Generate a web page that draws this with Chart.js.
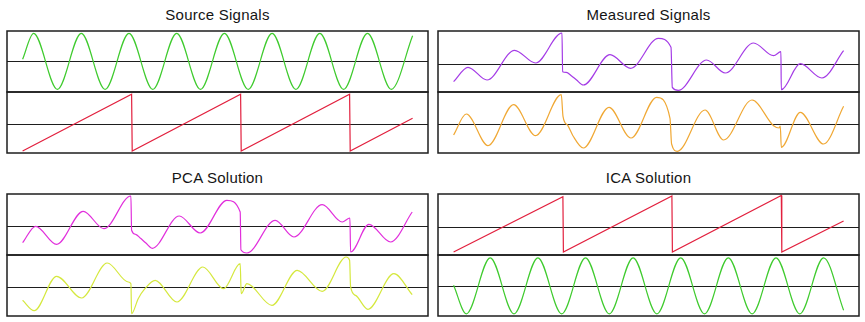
<!DOCTYPE html>
<html><head><meta charset="utf-8">
<script src="https://cdn.jsdelivr.net/npm/chart.js@4.4.1/dist/chart.umd.min.js"></script>
<style>
html,body{margin:0;padding:0;background:#fff;}
body{width:865px;height:322px;position:relative;overflow:hidden;font-family:"Liberation Sans",Arial,Helvetica,sans-serif;}
.title{position:absolute;width:421px;text-align:center;font-size:15px;letter-spacing:0.25px;line-height:16px;color:#151515;}
canvas{position:absolute;}
</style></head><body>
<script>
// ---------- DATA (time in samples, amplitude in arbitrary units) ----------
const panelTitles = ["Source Signals", "Measured Signals", "PCA Solution", "ICA Solution"];

// Source 1: sine (start, peaks/troughs, end)
const srcSineT = [0, 11.0, 34.8, 58.7, 82.5, 106.4, 130.2, 154.1, 177.9, 201.8, 225.6, 249.5, 273.3, 297.2, 321.0, 344.9, 368.7, 390];
const srcSineV = [0.2, 2.8, -2.8, 2.8, -2.8, 2.8, -2.8, 2.8, -2.8, 2.8, -2.8, 2.8, -2.8, 2.8, -2.8, 2.8, -2.8, 2.55];

// Source 2: sawtooth
const srcSawT = [0, 109, 109.6, 218, 218.6, 327, 327.6, 390];
const srcSawV = [-2.67, 3.0, -2.67, 3.0, -2.67, 3.0, -2.67, 0.6];

// Measured mixture 1 (purple)
const mix1T = [0, 14.4, 33.4, 61, 82, 108.4, 109, 112.7, 117.7, 122.7, 129.7, 156.4, 177, 204.7, 217.4, 218.7, 224.7, 253, 271.7, 300, 320, 327.3, 327.7, 346.7, 368.3, 390];
const mix1V = [-1.8, -0.36, -1.63, 1.34, 0.07, 3.07, -0.8, -0.87, -1.2, -1.6, -2.13, 0.9, -0.46, 2.54, 1.64, -2.36, -2.66, 0.37, -0.93, 2.07, 0.8, 1.2, -2.6, 0, -1.43, 1.3];

// Measured mixture 2 (orange)
const mix2T = [0, 12.7, 34.4, 60, 82, 107.7, 109.4, 114.3, 119.3, 129.7, 155.4, 177.4, 203, 216.4, 218, 223.7, 251.4, 270, 298.4, 320, 325.5, 326.7, 327.7, 346.7, 370, 390];
const mix2V = [-1.1, 1.0, -2.17, 1.93, -1.17, 2.93, 0.77, -0.17, -1.17, -2.4, 1.67, -1.4, 2.67, 0.57, -2.0, -2.73, 1.4, -1.6, 2.4, -0.17, -0.4, -0.2, -2.33, 1.17, -2.0, 1.77];

// PCA component 1 (magenta)
const pca1T = [0, 13, 34, 60.6, 81.3, 108.3, 109, 113, 118, 123, 129.6, 156.6, 177.6, 204.3, 217.6, 218.3, 224.3, 252.6, 271.3, 299.6, 319.6, 327.3, 328, 346.3, 368, 389.6];
const pca1V = [-1.64, 0, -1.8, 1.5, -0.24, 3.03, -0.4, -0.8, -1.2, -1.65, -2.2, 1.03, -0.67, 2.6, 1.43, -2.34, -2.67, 0.6, -1.07, 2.16, 0.43, 0.83, -2.57, 0.2, -1.57, 1.43];

// PCA component 2 (yellow)
const pca2T = [0, 11.6, 34, 59, 84.6, 105.6, 108.3, 109, 115.6, 122.3, 132.6, 154.3, 180.3, 201, 217.6, 218.6, 224.3, 249.3, 274.6, 299.6, 323.6, 327, 328, 333, 345.3, 371.3, 389.6];
const pca2V = [-1.36, -2.4, 1.04, -1.13, 2.37, 0.47, 0.3, -2.7, -1.2, -0.2, 0.64, -1.53, 1.97, -0.2, 2.3, -0.7, 0.3, -1.86, 1.64, -0.46, 2.97, 2.64, 0.0, -0.87, -2.26, 1.3, -0.8];

// ICA component 1 (sawtooth)
const icaSawT = [0, 109.3, 109.8, 218.3, 218.8, 327.7, 328.2, 390];
const icaSawV = [-2.53, 3.0, -2.53, 3.07, -2.53, 3.13, -2.53, 0.57];

// ICA component 2 (sine, inverted: start, troughs/peaks, end)
const icaSineT = [0, 12.7, 36.6, 60.4, 84.3, 108.1, 131.9, 155.7, 179.5, 203.3, 227.1, 250.9, 274.7, 298.5, 322.4, 346.2, 370.0, 390];
const icaSineV = [0.1, -2.75, 2.85, -2.75, 2.85, -2.75, 2.85, -2.75, 2.85, -2.75, 2.85, -2.75, 2.85, -2.75, 2.85, -2.75, 2.85, -2.4];

// ---------- LAYOUT / STYLE ----------
const PX = [7, 438, 7, 438];
const PY = [31, 31, 194, 194];
const W = 421, H = 61, PAD = 3;
const X_MIN = -15.6, X_MAX = 405.4;

const subplots = [
  {p:0, r:0, t:srcSineT, v:srcSineV, c:'#3fcb2e', smooth:true,  yMin:-3.07, yMax:3.03},
  {p:0, r:1, t:srcSawT,  v:srcSawV,  c:'#e2203e', smooth:false, yMin:-2.87, yMax:3.23},
  {p:1, r:0, t:mix1T,    v:mix1V,    c:'#a43be6', smooth:true,  yMin:-2.83, yMax:3.27},
  {p:1, r:1, t:mix2T,    v:mix2V,    c:'#f0a834', smooth:true,  yMin:-2.90, yMax:3.20},
  {p:2, r:0, t:pca1T,    v:pca1V,    c:'#e12fdc', smooth:true,  yMin:-2.87, yMax:3.23},
  {p:2, r:1, t:pca2T,    v:pca2V,    c:'#d5e83e', smooth:true,  yMin:-2.93, yMax:3.17},
  {p:3, r:0, t:icaSawT,  v:icaSawV,  c:'#e2203e', smooth:false, yMin:-2.83, yMax:3.27},
  {p:3, r:1, t:icaSineT, v:icaSineV, c:'#3fcb2e', smooth:true,  yMin:-2.97, yMax:3.13}
];

// titles
panelTitles.forEach((txt, i) => {
  const d = document.createElement('div');
  d.className = 'title';
  d.textContent = txt;
  d.style.left = PX[i] + 'px';
  d.style.top = (PY[i] - 24) + 'px';
  document.body.appendChild(d);
});

const framePlugin = {
  id: 'frame',
  beforeDatasetsDraw(chart) {
    const {ctx, chartArea: a, scales: {y}} = chart;
    const zy = Math.round(y.getPixelForValue(0)) + 0.5;
    ctx.save();
    ctx.strokeStyle = '#1e1e1e';
    ctx.lineWidth = 1.2;
    ctx.beginPath();
    ctx.moveTo(a.left, zy);
    ctx.lineTo(a.right, zy);
    ctx.stroke();
    ctx.restore();
  },
  afterDatasetsDraw(chart) {
    const {ctx, chartArea: a} = chart;
    ctx.save();
    ctx.strokeStyle = '#1e1e1e';
    ctx.lineWidth = 1.5;
    ctx.strokeRect(a.left, a.top, a.right - a.left, a.bottom - a.top);
    ctx.restore();
  }
};

subplots.forEach(s => {
  const cv = document.createElement('canvas');
  cv.width = W + 2 * PAD;
  cv.height = H + 2 * PAD;
  cv.style.left = (PX[s.p] - PAD) + 'px';
  cv.style.top = (PY[s.p] + s.r * H - PAD) + 'px';
  document.body.appendChild(cv);
  new Chart(cv, {
    type: 'line',
    data: {
      datasets: [{
        data: s.t.map((t, i) => ({x: t, y: s.v[i]})),
        borderColor: s.c,
        borderWidth: 1.2,
        pointRadius: 0,
        fill: false,
        tension: s.smooth ? 0.4 : 0,
        cubicInterpolationMode: s.smooth ? 'monotone' : 'default'
      }]
    },
    options: {
      responsive: false,
      animation: false,
      events: [],
      layout: {padding: PAD},
      plugins: {legend: {display: false}, tooltip: {enabled: false}, title: {display: false}},
      scales: {
        x: {type: 'linear', display: false, min: X_MIN, max: X_MAX},
        y: {type: 'linear', display: false, min: s.yMin, max: s.yMax}
      }
    },
    plugins: [framePlugin]
  });
});
</script>
</body></html>
